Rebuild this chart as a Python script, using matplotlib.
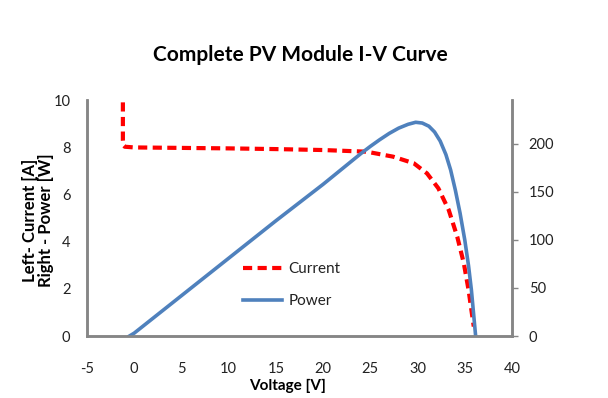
import matplotlib
matplotlib.use("Agg")
import matplotlib.pyplot as plt

plt.rcParams['font.family'] = ['Lato', 'DejaVu Sans']
plt.rcParams['axes.unicode_minus'] = False

# Data
current_v = [-1.2, -1.2, -1.15, -1.0, 0, 5, 10, 15, 20, 24.6, 27.4, 29.6, 31.0,
             32.2, 33.3, 34.2, 34.9, 35.4, 35.75, 35.95]
current_a = [9.9, 8.3, 8.08, 8.02, 7.99, 7.97, 7.95, 7.92, 7.88, 7.81, 7.60, 7.32,
             6.89, 6.26, 5.34, 4.21, 3.08, 1.95, 0.96, 0.4]

power_v = [-0.5, 0, 5, 10, 15, 20, 24, 25, 26, 27, 28, 29, 29.8, 30.5, 31.2,
           31.8, 32.4, 33.0, 33.5, 34.0, 34.5, 35.0, 35.4, 35.7, 36.0, 36.15]
power_w = [0, 3, 42, 81, 120, 158, 190, 197.5, 204.5, 211, 216.5, 220.5, 222.6,
           221.8, 218.5, 212.5, 203, 189, 173, 152, 128, 100, 73, 48, 16, 0]

x_ticks = [-5, 0, 5, 10, 15, 20, 25, 30, 35, 40]
left_ticks = [0, 2, 4, 6, 8, 10]
right_ticks = [0, 50, 100, 150, 200]

fig = plt.figure(figsize=(6.08, 3.98), dpi=100)
ax = fig.add_axes([87/608, 62/398, 425/608, 236/398])
ax2 = ax.twinx()

spine_col = '#868686'
red = '#FF0000'
blue = '#4F81BD'

l1, = ax.plot(current_v, current_a, color=red, lw=3, dashes=(2.2, 1.3),
              solid_capstyle='butt', zorder=3)
l2, = ax2.plot(power_v, power_w, color=blue, lw=2.6, zorder=2)

ax.set_xlim(-5, 40)
ax.set_ylim(0, 10)
ax2.set_ylim(0, 245.8)
ax.set_xticks(x_ticks)
ax.set_yticks(left_ticks)
ax2.set_yticks(right_ticks)

for a in (ax, ax2):
    a.spines['top'].set_visible(False)
    for s in ('left', 'right', 'bottom'):
        a.spines[s].set_color(spine_col)
        a.spines[s].set_linewidth(1.8)
    a.tick_params(labelsize=10.5, colors='#222222')

ax.tick_params(axis='x', length=0, pad=19)
ax.tick_params(axis='y', length=0, pad=12)
ax2.tick_params(axis='y', length=4, width=1, color=spine_col, pad=8)

ax.set_xlabel('Voltage [V]', fontsize=11, fontweight='bold')
ax.xaxis.set_label_coords((288 - 87) / 425, (336 - 379) / 236)
ax.set_ylabel('Left- Current [A]\nRight - Power [W]', fontsize=12,
              fontweight='bold', linespacing=1.0)
ax.yaxis.set_label_coords((54 - 87) / 425, (336 - 220) / 236)

fig.text(300/608, 1 - 55/398, 'Complete PV Module I-V Curve', ha='center',
         va='center', fontsize=15, fontweight='bold')

leg = ax.legend([l1, l2], ['Current', 'Power'], loc='upper left',
                bbox_to_anchor=((237-87)/425, (336-256)/236), frameon=False,
                fontsize=11, handlelength=2.55, labelspacing=1.2,
                handletextpad=0.4, borderaxespad=0)
for t in leg.get_texts():
    t.set_color('#222222')

fig.savefig('out.png', dpi=100)
